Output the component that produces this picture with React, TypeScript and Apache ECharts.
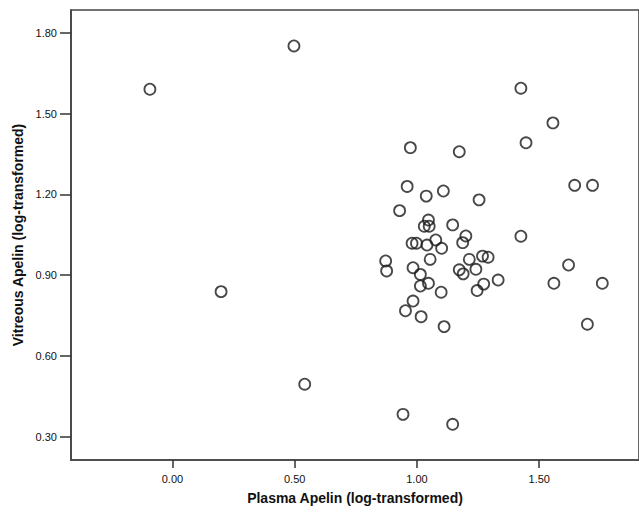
import React, { useEffect, useRef } from "react";
import * as echarts from "echarts";

const plasmaApelin = [
  -0.092, 0.497, 0.199, 0.541, 0.943, 1.146, 1.425, 1.556, 1.446, 1.645, 1.718, 1.425,
  1.62, 1.56, 1.758, 1.697, 1.332, 0.973, 1.173, 0.96, 1.038, 1.108, 1.254, 0.929,
  1.047, 1.03, 1.05, 1.146, 1.2, 1.187, 0.98, 0.998, 1.077, 1.041, 1.101, 1.054,
  1.214, 1.268, 1.291, 0.872, 0.876, 0.984, 1.173, 1.189, 1.241, 1.014, 1.273, 1.047,
  1.014, 1.246, 1.099, 0.984, 0.953, 1.017, 1.111,
];
const vitreousApelin = [
  1.591, 1.752, 0.839, 0.495, 0.383, 0.346, 1.595, 1.466, 1.392, 1.234, 1.234, 1.045,
  0.938, 0.87, 0.87, 0.718, 0.882, 1.374, 1.359, 1.23, 1.194, 1.213, 1.18, 1.14,
  1.105, 1.082, 1.082, 1.087, 1.046, 1.021, 1.019, 1.019, 1.031, 1.012, 1.0, 0.959,
  0.959, 0.971, 0.967, 0.953, 0.916, 0.928, 0.92, 0.905, 0.922, 0.903, 0.867, 0.87,
  0.86, 0.843, 0.837, 0.804, 0.768, 0.746, 0.709,
];
const xTicks = [0, 0.5, 1.0, 1.5];
const yTicks = [0.3, 0.6, 0.9, 1.2, 1.5, 1.8];
const xTitle = "Plasma Apelin (log-transformed)";
const yTitle = "Vitreous Apelin (log-transformed)";

export default function App() {
  const ref = useRef<HTMLDivElement>(null);
  useEffect(() => {
    if (!ref.current) return;
    const chart = echarts.init(ref.current, null, { renderer: "svg" });
    const data = plasmaApelin.map((x, i) => [x, vitreousApelin[i]]);
    const font = "Arial, 'Liberation Sans', sans-serif";
    chart.setOption({
      animation: false,
      backgroundColor: "#ffffff",
      grid: {
        left: 71,
        top: 10,
        right: -5,
        bottom: 55,
        show: true,
        borderColor: "#444",
        borderWidth: 1.6,
      },
      xAxis: {
        type: "value",
        min: -0.4147,
        max: 1.908,
        name: xTitle,
        nameLocation: "middle",
        nameGap: 31,
        nameTextStyle: { fontFamily: font, fontSize: 14, fontWeight: "bold", color: "#111" },
        axisLine: { show: true, onZero: false, lineStyle: { color: "#444", width: 1.6 } },
        axisTick: { show: true, customValues: xTicks, length: 8, lineStyle: { color: "#333", width: 1.5 } },
        axisLabel: {
          customValues: xTicks,
          formatter: (v: number) => v.toFixed(2),
          fontFamily: font,
          fontSize: 11,
          color: "#111",
          margin: 13,
        },
        splitLine: { show: false },
      },
      yAxis: {
        type: "value",
        min: 0.2134,
        max: 1.8855,
        name: yTitle,
        nameLocation: "middle",
        nameGap: 45,
        nameTextStyle: { fontFamily: font, fontSize: 14, fontWeight: "bold", color: "#111" },
        axisLine: { show: true, onZero: false, lineStyle: { color: "#444", width: 1.6 } },
        axisTick: { show: true, customValues: yTicks, length: 11, lineStyle: { color: "#333", width: 1.5 } },
        axisLabel: {
          customValues: yTicks,
          formatter: (v: number) => v.toFixed(2),
          fontFamily: font,
          fontSize: 11,
          color: "#111",
          margin: 14,
        },
        splitLine: { show: false },
      },
      series: [
        {
          type: "scatter",
          data,
          symbol: "circle",
          symbolSize: 11,
          itemStyle: { color: "rgba(255,255,255,0)", borderColor: "#1a1a1a", borderWidth: 1.8 },
        },
      ],
    });
    return () => chart.dispose();
  }, []);
  return (
    <div
      ref={ref}
      style={{ position: "fixed", left: 0, top: 0, width: 639, height: 515, background: "#fff" }}
    />
  );
}
